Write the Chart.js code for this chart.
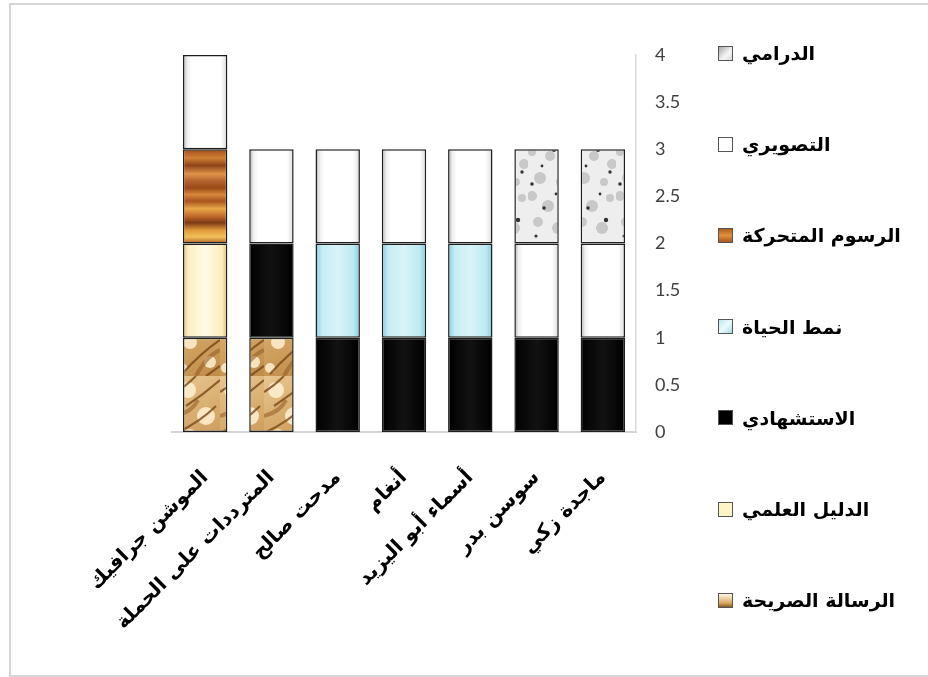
<!DOCTYPE html>
<html>
<head>
<meta charset="utf-8">
<script src="https://cdn.jsdelivr.net/npm/chart.js@4/dist/chart.umd.min.js"></script>
<style>
html,body{margin:0;padding:0;background:#fff;width:928px;height:677px;overflow:hidden}
#frame{position:absolute;left:9px;top:3px;width:940px;height:674px;border:2px solid #d6d6d6;border-right:none;box-sizing:border-box}
#wrap{position:absolute;left:0;top:0;width:928px;height:677px}
#legend{position:absolute;left:0;top:0;width:928px;height:677px;pointer-events:none}
.li{position:absolute;left:718px;height:26px;display:flex;align-items:center;white-space:nowrap;font:bold 19px "DejaVu Sans",sans-serif;color:#000;direction:ltr}
.box{width:13px;height:13px;border:1px solid #555;margin-right:9px;flex:none}
</style>
</head>
<body>
<div id="frame"></div>
<div id="wrap"><canvas id="c" width="928" height="677"></canvas></div>
<div id="legend"></div>
<script>
// ---- data ----
const categories = ['الموشن جرافيك','المترددات على الحملة','مدحت صالح','أنغام','أسماء أبو اليزيد','سوسن بدر','ماجدة زكي'];
const seriesNames = ['الرسالة الصريحة','الدليل العلمي','الاستشهادي','نمط الحياة','الرسوم المتحركة','التصويري','الدرامي'];
const explicitMessage    = [1,1,0,0,0,0,0];
const scientificEvidence = [1,0,0,0,0,0,0];
const testimonial        = [0,1,1,1,1,1,1];
const lifestyle          = [0,0,1,1,1,0,0];
const animation          = [1,0,0,0,0,0,0];
const pictorial          = [1,1,1,1,1,1,1];
const dramatic           = [0,0,0,0,0,1,1];
const yTicks = [0,0.5,1,1.5,2,2.5,3,3.5,4];
const seriesValues = [explicitMessage, scientificEvidence, testimonial, lifestyle, animation, pictorial, dramatic];

const BAR_PCT = 0.67;

// ---- textures ----
function tile(w,h,draw){
  const cv=document.createElement('canvas');cv.width=w;cv.height=h;
  const g=cv.getContext('2d');draw(g,w,h);
  return document.getElementById('c').getContext('2d').createPattern(cv,'repeat');
}
const woodPattern = tile(12,94,(g,w,h)=>{
  const gr=g.createLinearGradient(0,0,0,h);
  const st=[[0,'#9a4a18'],[0.07,'#d8883a'],[0.14,'#a85420'],[0.22,'#eaa848'],[0.3,'#c06a2c'],[0.37,'#7e3a14'],[0.45,'#e09a3c'],[0.52,'#f0c058'],[0.6,'#a8521e'],[0.68,'#d08034'],[0.76,'#8e4418'],[0.85,'#e0944a'],[0.93,'#b0602a'],[1,'#9a4a18']];
  st.forEach(s=>gr.addColorStop(s[0],s[1]));
  g.fillStyle=gr;g.fillRect(0,0,w,h);
});
const marblePattern = tile(44,94,(g,w,h)=>{
  const gr=g.createLinearGradient(0,0,w,h);
  gr.addColorStop(0,'#e8c690');gr.addColorStop(0.5,'#d4a868');gr.addColorStop(1,'#c08c48');
  g.fillStyle=gr;g.fillRect(0,0,w,h);
  g.fillStyle='rgba(255,240,210,0.85)';
  [[12,14,8],[30,40,9],[14,60,7],[34,80,6],[6,86,5]].forEach(p=>{g.beginPath();g.arc(p[0],p[1],p[2],0,Math.PI*2);g.fill();});
  g.strokeStyle='rgba(120,72,24,0.8)';g.lineWidth=2.2;
  [[[44,4],[28,18],[10,30]],[[40,30],[24,46],[2,56]],[[44,58],[26,70],[6,92]],[[20,0],[10,10],[0,16]],[[44,84],[36,90],[30,94]]].forEach(l=>{
    g.beginPath();g.moveTo(l[0][0],l[0][1]);g.quadraticCurveTo(l[1][0],l[1][1],l[2][0],l[2][1]);g.stroke();});
  g.strokeStyle='rgba(150,96,40,0.6)';g.lineWidth=4;
  [[[0,40],[16,36],[22,24]],[[20,94],[30,74],[44,68]]].forEach(l=>{
    g.beginPath();g.moveTo(l[0][0],l[0][1]);g.quadraticCurveTo(l[1][0],l[1][1],l[2][0],l[2][1]);g.stroke();});
});
const stonePattern = tile(44,94,(g,w,h)=>{
  g.fillStyle='#eeeeee';g.fillRect(0,0,w,h);
  g.fillStyle='rgba(170,170,170,0.55)';
  [[4,8,5],[20,18,6],[38,10,4],[10,34,5],[30,40,6],[4,58,4],[22,62,5],[40,70,5],[12,84,6],[32,88,4]].forEach(p=>{g.beginPath();g.arc(p[0],p[1],p[2],0,Math.PI*2);g.fill();});
  g.fillStyle='#333';
  [[16,20,1.8],[34,32,2.2],[8,48,1.6],[26,56,2],[38,78,1.7],[14,72,1.4],[4,90,1.8],[28,6,1.4]].forEach(p=>{g.beginPath();g.arc(p[0],p[1],p[2],0,Math.PI*2);g.fill();});
});

function bevel(stops){
  return (ctx)=>{
    const chart=ctx.chart, a=chart.chartArea, xs=chart.scales && chart.scales.x;
    if(!a || !xs || ctx.type!=='data') return stops[Math.floor(stops.length/2)][1];
    const cx=xs.getPixelForValue(ctx.dataIndex);
    const w=(a.width/categories.length)*BAR_PCT;
    const gr=chart.ctx.createLinearGradient(cx-w/2,0,cx+w/2,0);
    stops.forEach(s=>gr.addColorStop(s[0],s[1]));
    return gr;
  };
}
const whiteFill = bevel([[0,'#b0b0b0'],[0.1,'#f0f0f0'],[0.2,'#ffffff'],[0.85,'#ffffff'],[0.95,'#e6e6e6'],[1,'#a8a8a8']]);
const blueFill  = bevel([[0,'#86cddf'],[0.15,'#c6edf5'],[0.5,'#d8f4f8'],[0.85,'#bfe9f2'],[1,'#86cbdc']]);
const creamFill = bevel([[0,'#dcc27e'],[0.12,'#fbefc2'],[0.5,'#fffae4'],[0.88,'#fbedbe'],[1,'#d8bf7c']]);
const blackFill = bevel([[0,'#000'],[0.5,'#121212'],[1,'#000']]);

const fills = [marblePattern, creamFill, blackFill, blueFill, woodPattern, whiteFill, stonePattern];
const legendBoxes = [
  'linear-gradient(#fff8e6,#d8a860 70%,#8a5a20)',
  '#fdf4c8',
  '#000',
  'linear-gradient(135deg,#bde8f0,#eafafd,#a8dce8)',
  'linear-gradient(#b0601e,#e0903c,#a8561c)',
  '#fff',
  'linear-gradient(135deg,#a8a8a8,#f6f6f6 60%,#d8d8d8)'
];

const datasets = seriesNames.map((name,i)=>({
  label:name,
  data:seriesValues[i],
  backgroundColor:fills[i],
  borderColor:'#1e1e1e',
  borderWidth:1.5,
  borderSkipped:false,
  barPercentage:BAR_PCT,
  categoryPercentage:1
}));

new Chart(document.getElementById('c'),{
  type:'bar',
  data:{labels:categories,datasets},
  options:{
    responsive:false,
    animation:false,
    events:[],
    layout:{padding:{left:172,top:55,right:0,bottom:0}},
    plugins:{legend:{display:false},tooltip:{enabled:false}},
    scales:{
      x:{
        stacked:true,
        grid:{display:false,drawTicks:false},
        border:{display:true,color:'#d4d4d4',width:2},
        ticks:{autoSkip:false,minRotation:45,maxRotation:45,padding:34,color:'#000',font:{family:'"DejaVu Sans"',size:20,weight:'bold'}},
        afterFit:s=>{s.height=245;}
      },
      y:{
        stacked:true,
        position:'right',
        min:0,max:4,
        afterBuildTicks:s=>{s.ticks=yTicks.map(v=>({value:v}));},
        grid:{display:false,drawTicks:false},
        border:{display:true,color:'#d9d9d9',width:1.5},
        ticks:{padding:19,color:'#404040',font:{family:'Lato',size:18},callback:v=>String(v)},
        afterFit:s=>{s.width=292;}
      }
    }
  }
});

// ---- legend (built from the series names) ----
const lg=document.getElementById('legend');
for(let k=0;k<seriesNames.length;k++){
  const i=seriesNames.length-1-k;
  const d=document.createElement('div');d.className='li';
  d.style.top=(53+k*91.2-13)+'px';
  const b=document.createElement('span');b.className='box';b.style.background=legendBoxes[i];
  const t=document.createElement('span');t.textContent=seriesNames[i];t.dir='rtl';
  d.appendChild(b);d.appendChild(t);lg.appendChild(d);
}
</script>
</body>
</html>
